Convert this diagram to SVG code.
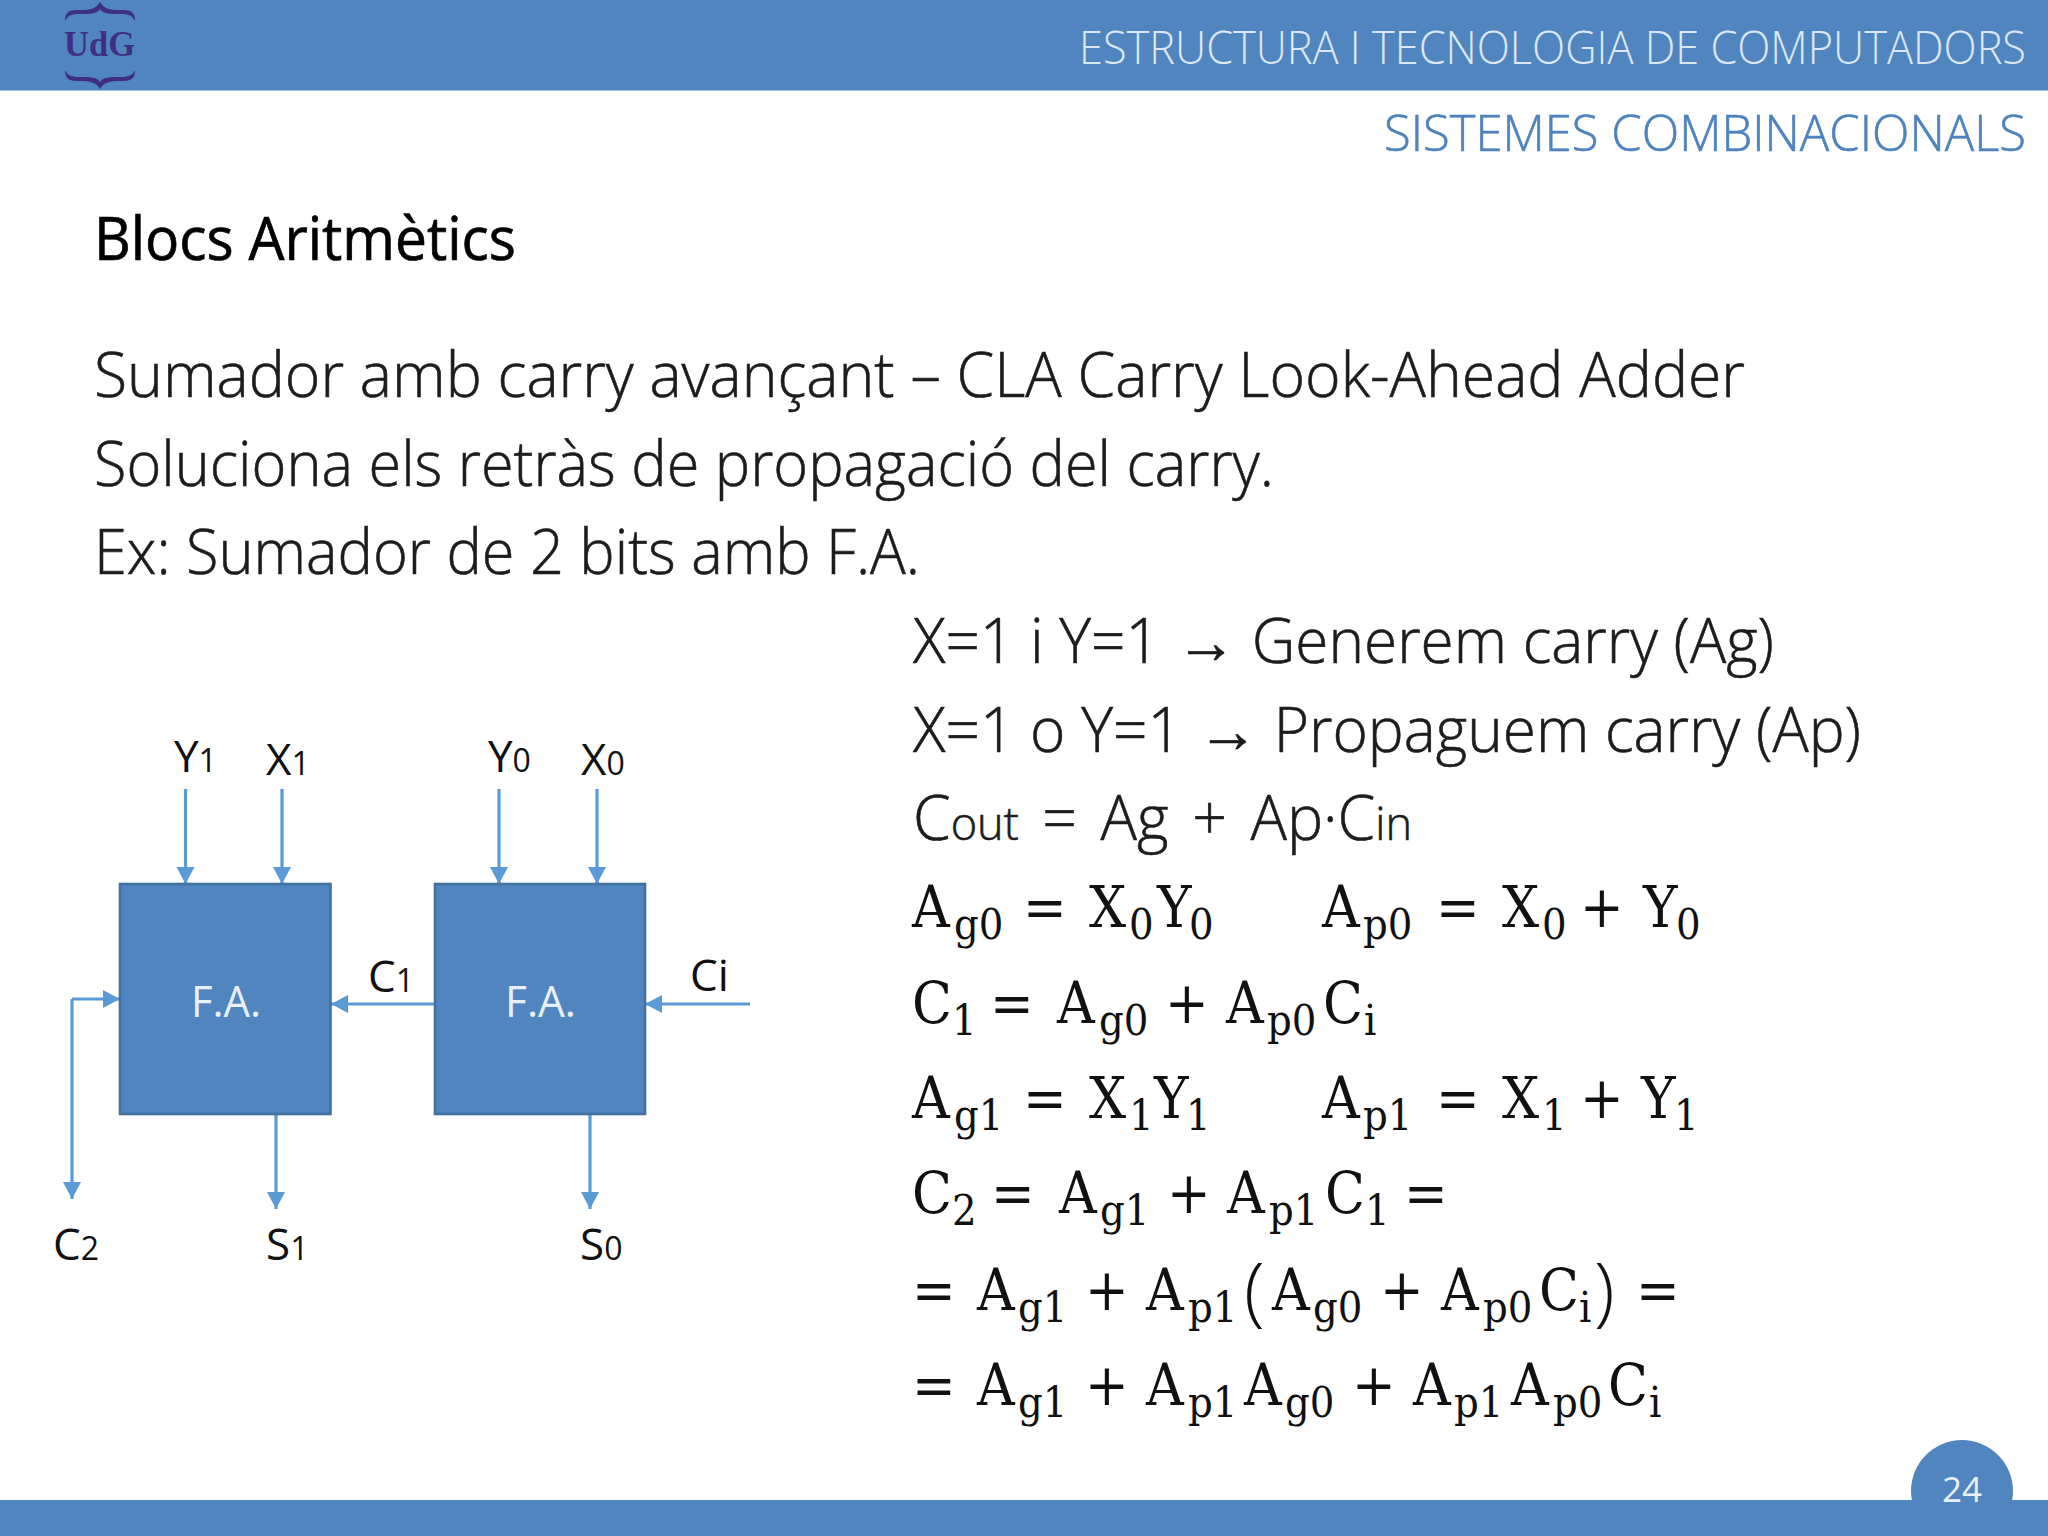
<svg xmlns="http://www.w3.org/2000/svg" width="2048" height="1536" viewBox="0 0 2048 1536">
<defs>
<marker id="ah" markerUnits="userSpaceOnUse" markerWidth="19" markerHeight="19" refX="17" refY="9" orient="auto"><path d="M0 0L17 9L0 18Z" fill="#5B9BD5"/></marker>
</defs>
<style>
text{font-family:"Open Sans","Noto Sans",sans-serif}
.body{font-size:62px;font-weight:300;fill:#1c1c1c;stroke:#1c1c1c;stroke-width:.6}
.lbl{font-size:44px;fill:#111}
.lbl tspan{font-size:32px}
.fa{font-size:44px;fill:#e8eff7}
.m{font-family:"DejaVu Serif Condensed","DejaVu Serif",serif;font-stretch:condensed;font-size:58px;fill:#111}
.m .s{font-size:43px}
.m .p{font-size:76px;font-family:"Open Sans",sans-serif;font-weight:300;font-stretch:normal}
.box{fill:#5185BF;stroke:#41719C;stroke-width:2.6}
.c{fill:none;stroke:#5B9BD5;stroke-width:3.2}
.a{marker-end:url(#ah)}
.bar{fill:#5185BF}
</style>
<rect width="2048" height="1536" fill="#fff"/>
<g id="header">
<rect class="bar" x="0" y="0" width="2048" height="90.500"/>
<path d="M65 21C65 11 70 10 80 10C90 10 96 9 100 2C104 9 110 10 120 10C130 10 135 11 135 21C132 15 128 14 120 14C110 14 103 14 100 9C97 14 90 14 80 14C72 14 68 15 65 21Z" fill="#3f2f80"/>
<path d="M65 70C65 80 70 81 80 81C90 81 96 82 100 89C104 82 110 81 120 81C130 81 135 80 135 70C132 76 128 77 120 77C110 77 103 77 100 82C97 77 90 77 80 77C72 77 68 76 65 70Z" fill="#3f2f80"/>
<text x="64" y="56" font-size="36" font-weight="700" fill="#3f2f80" textLength="71" lengthAdjust="spacingAndGlyphs" style="font-family:'Liberation Serif',serif">UdG</text>
<text x="1079" y="64" font-size="46" font-weight="300" fill="#dde7f3" textLength="947" lengthAdjust="spacingAndGlyphs">ESTRUCTURA I TECNOLOGIA DE COMPUTADORS</text>
<text x="1384" y="151" font-size="50" font-weight="300" fill="#4f83bd" stroke="#4f83bd" stroke-width=".6" textLength="642" lengthAdjust="spacingAndGlyphs">SISTEMES COMBINACIONALS</text>
</g>
<g id="text-block">
<text x="94" y="260" font-size="60" fill="#000" stroke="#000" stroke-width=".7" textLength="422" lengthAdjust="spacingAndGlyphs">Blocs Aritmètics</text>
<text class="body" x="94" y="397" textLength="1651" lengthAdjust="spacingAndGlyphs">Sumador amb carry avançant – CLA Carry Look-Ahead Adder</text>
<text class="body" x="94" y="486" textLength="1180" lengthAdjust="spacingAndGlyphs">Soluciona els retràs de propagació del carry.</text>
<text class="body" x="94" y="574" textLength="826" lengthAdjust="spacingAndGlyphs">Ex: Sumador de 2 bits amb F.A.</text>
<text class="body" x="913" y="663" textLength="861" lengthAdjust="spacingAndGlyphs">X=1 i Y=1 → Generem carry (Ag)</text>
<text class="body" x="913" y="752" textLength="948" lengthAdjust="spacingAndGlyphs">X=1 o Y=1 → Propaguem carry (Ap)</text>
<text class="body" x="913" y="840" textLength="499" lengthAdjust="spacingAndGlyphs" word-spacing="8">C<tspan font-size="46">out</tspan> = Ag + Ap·C<tspan font-size="46">in</tspan></text>
</g>
<g id="connectors">
<path class="c a" d="M185.500 789V884"/>
<path class="c a" d="M282 789V884"/>
<path class="c a" d="M499 789V884"/>
<path class="c a" d="M597 789V884"/>
<path class="c a" d="M435 1004H331"/>
<path class="c a" d="M750 1004H645"/>
<path class="c a" d="M276 1114V1209"/>
<path class="c a" d="M590 1114V1209"/>
<path class="c a" d="M72 999H120"/>
<path class="c a" d="M72 999V1199"/>
</g>
<g id="fa1"><rect class="box" x="120" y="884" width="210.500" height="230"/><text class="fa" x="191" y="1017" textLength="70" lengthAdjust="spacingAndGlyphs">F.A.</text></g>
<g id="fa0"><rect class="box" x="435" y="884" width="210" height="230"/><text class="fa" x="505" y="1017" textLength="71" lengthAdjust="spacingAndGlyphs">F.A.</text></g>
<g id="labels">
<text class="lbl" x="174" y="772">Y<tspan>1</tspan></text>
<text class="lbl" x="266" y="775">X<tspan>1</tspan></text>
<text class="lbl" x="488" y="772">Y<tspan>0</tspan></text>
<text class="lbl" x="581" y="775">X<tspan>0</tspan></text>
<text class="lbl" x="368" y="992">C<tspan>1</tspan></text>
<text class="lbl" x="690" y="991">Ci</text>
<text class="lbl" x="53" y="1260">C<tspan>2</tspan></text>
<text class="lbl" x="266" y="1260">S<tspan>1</tspan></text>
<text class="lbl" x="580" y="1260">S<tspan>0</tspan></text>
</g>
<g id="equations">
<text class="m"><tspan x="912" y="927">A</tspan><tspan class="s" x="954" y="939">g0</tspan><tspan x="1023" y="927">=</tspan><tspan x="1089" y="927">X</tspan><tspan class="s" x="1129" y="939">0</tspan><tspan x="1157" y="927">Y</tspan><tspan class="s" x="1189" y="939">0</tspan><tspan x="1322" y="927">A</tspan><tspan class="s" x="1363" y="939">p0</tspan><tspan x="1436" y="927">=</tspan><tspan x="1502" y="927">X</tspan><tspan class="s" x="1542" y="939">0</tspan><tspan x="1580" y="927">+</tspan><tspan x="1643" y="927">Y</tspan><tspan class="s" x="1676" y="939">0</tspan></text>
<text class="m"><tspan x="912" y="1023">C</tspan><tspan class="s" x="952" y="1035">1</tspan><tspan x="990" y="1023">=</tspan><tspan x="1057" y="1023">A</tspan><tspan class="s" x="1099" y="1035">g0</tspan><tspan x="1165" y="1023">+</tspan><tspan x="1226" y="1023">A</tspan><tspan class="s" x="1267" y="1035">p0</tspan><tspan x="1323" y="1023">C</tspan><tspan class="s" x="1364" y="1035">i</tspan></text>
<text class="m"><tspan x="912" y="1118">A</tspan><tspan class="s" x="954" y="1130">g1</tspan><tspan x="1023" y="1118">=</tspan><tspan x="1089" y="1118">X</tspan><tspan class="s" x="1129" y="1130">1</tspan><tspan x="1154" y="1118">Y</tspan><tspan class="s" x="1186" y="1130">1</tspan><tspan x="1322" y="1118">A</tspan><tspan class="s" x="1363" y="1130">p1</tspan><tspan x="1436" y="1118">=</tspan><tspan x="1502" y="1118">X</tspan><tspan class="s" x="1542" y="1130">1</tspan><tspan x="1580" y="1118">+</tspan><tspan x="1641" y="1118">Y</tspan><tspan class="s" x="1674" y="1130">1</tspan></text>
<text class="m"><tspan x="912" y="1213">C</tspan><tspan class="s" x="952" y="1225">2</tspan><tspan x="991" y="1213">=</tspan><tspan x="1059" y="1213">A</tspan><tspan class="s" x="1100" y="1225">g1</tspan><tspan x="1167" y="1213">+</tspan><tspan x="1227" y="1213">A</tspan><tspan class="s" x="1269" y="1225">p1</tspan><tspan x="1325" y="1213">C</tspan><tspan class="s" x="1365" y="1225">1</tspan><tspan x="1404" y="1213">=</tspan></text>
<text class="m"><tspan x="912" y="1310">=</tspan><tspan x="977" y="1310">A</tspan><tspan class="s" x="1018" y="1322">g1</tspan><tspan x="1085" y="1310">+</tspan><tspan x="1146" y="1310">A</tspan><tspan class="s" x="1188" y="1322">p1</tspan><tspan class="p" x="1244" y="1317">(</tspan><tspan x="1272" y="1310">A</tspan><tspan class="s" x="1313" y="1322">g0</tspan><tspan x="1380" y="1310">+</tspan><tspan x="1441" y="1310">A</tspan><tspan class="s" x="1483" y="1322">p0</tspan><tspan x="1539" y="1310">C</tspan><tspan class="s" x="1579" y="1322">i</tspan><tspan class="p" x="1594" y="1317">)</tspan><tspan x="1636" y="1310">=</tspan></text>
<text class="m"><tspan x="912" y="1405">=</tspan><tspan x="977" y="1405">A</tspan><tspan class="s" x="1018" y="1417">g1</tspan><tspan x="1085" y="1405">+</tspan><tspan x="1146" y="1405">A</tspan><tspan class="s" x="1188" y="1417">p1</tspan><tspan x="1244" y="1405">A</tspan><tspan class="s" x="1285" y="1417">g0</tspan><tspan x="1352" y="1405">+</tspan><tspan x="1413" y="1405">A</tspan><tspan class="s" x="1454" y="1417">p1</tspan><tspan x="1511" y="1405">A</tspan><tspan class="s" x="1553" y="1417">p0</tspan><tspan x="1608" y="1405">C</tspan><tspan class="s" x="1649" y="1417">i</tspan></text>
</g>
<g id="footer">
<rect class="bar" x="0" y="1500" width="2048" height="36"/>
<circle class="bar" cx="1962" cy="1491" r="51"/>
<text x="1962" y="1502" font-size="35" fill="#e8eff7" text-anchor="middle">24</text>
</g>
</svg>
